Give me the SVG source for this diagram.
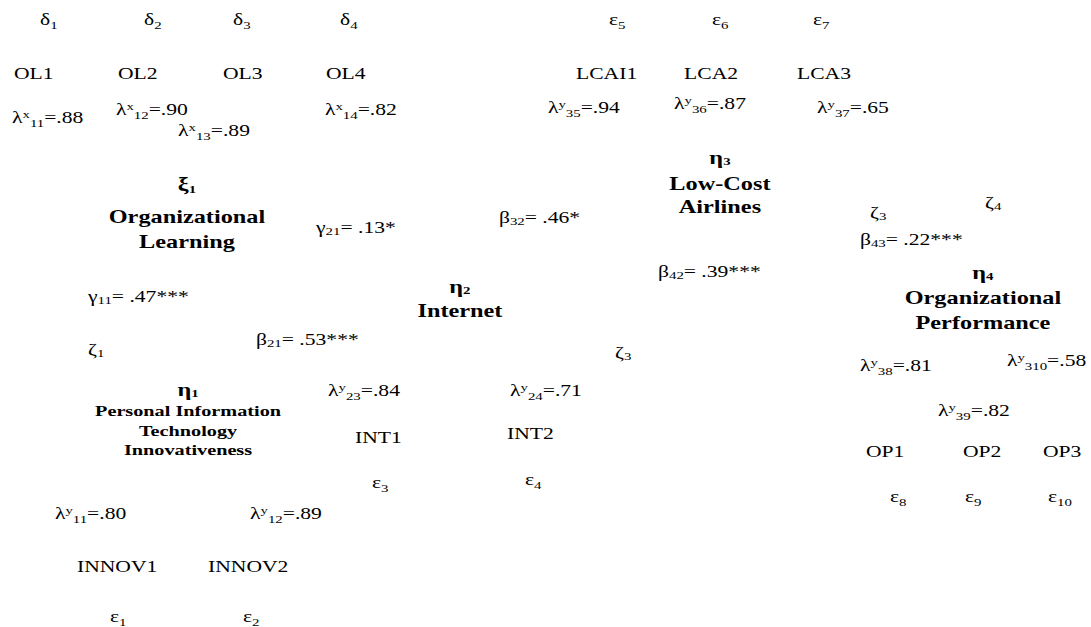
<svg xmlns="http://www.w3.org/2000/svg" width="1091" height="627" viewBox="0 0 1091 627">
<style>
text{font-family:"Liberation Serif","Times New Roman",serif;font-size:16px;fill:#000}
.b{font-weight:bold;font-size:18px}
.bs{font-weight:bold;font-size:15px}
.s{font-size:11px}
.m{text-anchor:middle}
</style>
<rect width="1091" height="627" fill="#fff"/>
<g id="connectors"/>
<g transform="scale(1.35 1)">
<g id="ol-indicators">
<text x="29.6" y="25">δ<tspan class="s" dy="4">1</tspan></text>
<text x="106.7" y="25">δ<tspan class="s" dy="4">2</tspan></text>
<text x="172.6" y="25">δ<tspan class="s" dy="4">3</tspan></text>
<text x="251.9" y="25">δ<tspan class="s" dy="4">4</tspan></text>
<text x="10.4" y="79">OL1</text>
<text x="87.4" y="79">OL2</text>
<text x="165.2" y="79">OL3</text>
<text x="241.5" y="79">OL4</text>
<text x="8.9" y="123">λ<tspan class="s" dy="-5">x</tspan><tspan class="s" dy="9">11</tspan><tspan dy="-4">=.88</tspan></text>
<text x="85.9" y="115">λ<tspan class="s" dy="-5">x</tspan><tspan class="s" dy="9">12</tspan><tspan dy="-4">=.90</tspan></text>
<text x="131.9" y="136">λ<tspan class="s" dy="-5">x</tspan><tspan class="s" dy="9">13</tspan><tspan dy="-4">=.89</tspan></text>
<text x="240.7" y="115">λ<tspan class="s" dy="-5">x</tspan><tspan class="s" dy="9">14</tspan><tspan dy="-4">=.82</tspan></text>
</g>
<g id="lca-indicators">
<text x="451.1" y="25">ε<tspan class="s" dy="4">5</tspan></text>
<text x="527.4" y="25">ε<tspan class="s" dy="4">6</tspan></text>
<text x="602.2" y="25">ε<tspan class="s" dy="4">7</tspan></text>
<text x="426.7" y="79">LCAI1</text>
<text x="506.7" y="79">LCA2</text>
<text x="590.4" y="79">LCA3</text>
<text x="405.9" y="113">λ<tspan class="s" dy="-5">y</tspan><tspan class="s" dy="9">35</tspan><tspan dy="-4">=.94</tspan></text>
<text x="499.3" y="109">λ<tspan class="s" dy="-5">y</tspan><tspan class="s" dy="9">36</tspan><tspan dy="-4">=.87</tspan></text>
<text x="605.2" y="113">λ<tspan class="s" dy="-5">y</tspan><tspan class="s" dy="9">37</tspan><tspan dy="-4">=.65</tspan></text>
</g>
<g id="xi1">
<text class="b m" x="138.5" y="190">ξ<tspan class="s" style="font-weight:bold" dy="3">1</tspan></text>
<text class="b m" x="138.5" y="223">Organizational</text>
<text class="b m" x="138.5" y="248">Learning</text>
</g>
<g id="eta3">
<text class="b m" x="533.3" y="164">η<tspan class="s" style="font-weight:bold" dy="1">3</tspan></text>
<text class="b m" x="533.3" y="190">Low-Cost</text>
<text class="b m" x="533.3" y="213">Airlines</text>
</g>
<g id="eta2">
<text class="b m" x="340.7" y="293">η<tspan class="s" style="font-weight:bold" dy="1">2</tspan></text>
<text class="b m" x="340.7" y="317">Internet</text>
</g>
<g id="eta4">
<text class="b m" x="728.1" y="279">η<tspan class="s" style="font-weight:bold" dy="1">4</tspan></text>
<text class="b m" x="728.1" y="304">Organizational</text>
<text class="b m" x="728.1" y="329">Performance</text>
</g>
<g id="eta1">
<text class="b m" x="139.3" y="396">η<tspan class="s" style="font-weight:bold" dy="1">1</tspan></text>
<text class="bs m" x="139.3" y="416">Personal Information</text>
<text class="bs m" x="139.3" y="436">Technology</text>
<text class="bs m" x="139.3" y="455">Innovativeness</text>
</g>
<g id="paths">
<text x="234.1" y="233">γ<tspan class="s" dy="2">21</tspan><tspan dy="-2">= .13*</tspan></text>
<text x="369.6" y="223">β<tspan class="s" dy="2">32</tspan><tspan dy="-2">= .46*</tspan></text>
<text x="487.4" y="277">β<tspan class="s" dy="2">42</tspan><tspan dy="-2">= .39***</tspan></text>
<text x="637" y="245">β<tspan class="s" dy="2">43</tspan><tspan dy="-2">= .22***</tspan></text>
<text x="65.2" y="302">γ<tspan class="s" dy="2">11</tspan><tspan dy="-2">= .47***</tspan></text>
<text x="189.6" y="345">β<tspan class="s" dy="2">21</tspan><tspan dy="-2">= .53***</tspan></text>
</g>
<g id="disturbances">
<text x="65.2" y="355">ζ<tspan class="s" dy="2">1</tspan></text>
<text x="455.6" y="358">ζ<tspan class="s" dy="2">3</tspan></text>
<text x="644.4" y="218">ζ<tspan class="s" dy="2">3</tspan></text>
<text x="729.6" y="208">ζ<tspan class="s" dy="2">4</tspan></text>
</g>
<g id="int-indicators">
<text x="243" y="396">λ<tspan class="s" dy="-5">y</tspan><tspan class="s" dy="9">23</tspan><tspan dy="-4">=.84</tspan></text>
<text x="377.8" y="396">λ<tspan class="s" dy="-5">y</tspan><tspan class="s" dy="9">24</tspan><tspan dy="-4">=.71</tspan></text>
<text x="263" y="443">INT1</text>
<text x="375.6" y="439">INT2</text>
<text x="275.6" y="488">ε<tspan class="s" dy="4">3</tspan></text>
<text x="388.9" y="485">ε<tspan class="s" dy="4">4</tspan></text>
</g>
<g id="op-indicators">
<text x="637" y="371">λ<tspan class="s" dy="-5">y</tspan><tspan class="s" dy="9">38</tspan><tspan dy="-4">=.81</tspan></text>
<text x="745.9" y="366">λ<tspan class="s" dy="-5">y</tspan><tspan class="s" dy="9">310</tspan><tspan dy="-4">=.58</tspan></text>
<text x="694.8" y="416">λ<tspan class="s" dy="-5">y</tspan><tspan class="s" dy="9">39</tspan><tspan dy="-4">=.82</tspan></text>
<text x="641.5" y="457">OP1</text>
<text x="713.3" y="457">OP2</text>
<text x="772.6" y="457">OP3</text>
<text x="659.3" y="502">ε<tspan class="s" dy="4">8</tspan></text>
<text x="714.8" y="502">ε<tspan class="s" dy="4">9</tspan></text>
<text x="776.3" y="502">ε<tspan class="s" dy="4">10</tspan></text>
</g>
<g id="innov-indicators">
<text x="40.7" y="519">λ<tspan class="s" dy="-5">y</tspan><tspan class="s" dy="9">11</tspan><tspan dy="-4">=.80</tspan></text>
<text x="185.2" y="519">λ<tspan class="s" dy="-5">y</tspan><tspan class="s" dy="9">12</tspan><tspan dy="-4">=.89</tspan></text>
<text x="57" y="572">INNOV1</text>
<text x="154.1" y="572">INNOV2</text>
<text x="81.5" y="622">ε<tspan class="s" dy="4">1</tspan></text>
<text x="180" y="622">ε<tspan class="s" dy="4">2</tspan></text>
</g>
</g>
</svg>
